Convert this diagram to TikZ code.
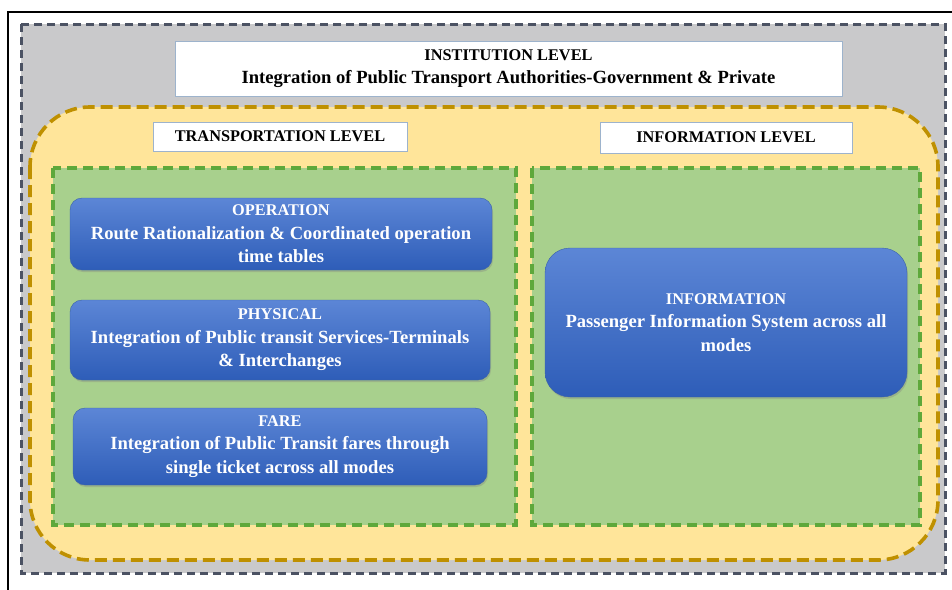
\documentclass[tikz,border=0pt]{standalone}
\usepackage{fontspec}
\setmainfont{Liberation Serif}
\usetikzlibrary{shadows}

\definecolor{outerfill}{HTML}{C9C9CB}
\definecolor{outerdash}{HTML}{4B5263}
\definecolor{transfill}{HTML}{FFE59A}
\definecolor{transdash}{HTML}{BF9000}
\definecolor{groupfill}{HTML}{A8D08D}
\definecolor{groupdash}{HTML}{5EA83B}
\definecolor{modetop}{HTML}{5C86D6}
\definecolor{modebot}{HTML}{2E5DB8}
\definecolor{modeedge}{HTML}{3A62A8}
\definecolor{labeledge}{HTML}{9DB3CC}

% capitals a bit smaller than the running text
\newcommand{\modehead}[1]{{\fontsize{16.3}{24}\selectfont #1}}

\tikzset{
  titlefont/.style={font=\bfseries\fontsize{18.6}{23}\selectfont},
  levellabel/.style={draw=labeledge, fill=white, titlefont, inner sep=0pt},
  modebox/.style={rounded corners=12pt, draw=modeedge, top color=modetop, bottom color=modebot,
    text=white, align=center, inner sep=0pt, font=\bfseries\fontsize{18.6}{23.5}\selectfont,
    drop shadow={opacity=0.35, shadow xshift=1pt, shadow yshift=-2pt}},
}

\begin{document}
\begin{tikzpicture}[x=1pt,y=-1pt]
        \useasboundingbox (0,0) rectangle (952,589);
        % page frame, only top and left fall inside
        \draw[line width=1.3pt] (8,12) rectangle (960,600);
        % institution level
        \draw[fill=outerfill, draw=outerdash, line width=3pt, dash pattern=on 8pt off 5pt] (21,24) rectangle (945,573);
        \node[levellabel, minimum width=667pt, minimum height=55pt, align=center] (inst) at (508.5,68.5)
            {\modehead{INSTITUTION LEVEL}\\Integration of Public Transport Authorities-Government \& Private};
        % transportation and information levels
        \draw[fill=transfill, draw=transdash, line width=3.6pt, dash pattern=on 12pt off 6pt, rounded corners=60pt] (30,107) rectangle (938,560);
        \node[levellabel, minimum width=254pt, minimum height=29pt] (translabel) at (280,136.5) {\modehead{TRANSPORTATION LEVEL}};
        \node[levellabel, minimum width=252pt, minimum height=31pt] (infolabel) at (726,137.5) {\modehead{INFORMATION LEVEL}};
        \draw[fill=groupfill, draw=groupdash, line width=3.2pt, dash pattern=on 10pt off 6pt] (53,168) rectangle (516,525);
        \draw[fill=groupfill, draw=groupdash, line width=3.2pt, dash pattern=on 10pt off 6pt] (532,168) rectangle (920,525);
        % integration types
        \node[modebox, minimum width=422pt, minimum height=72pt] (operation) at (281,234)
            {\modehead{OPERATION}\\Route Rationalization \& Coordinated operation\\time tables};
        \node[modebox, minimum width=420pt, minimum height=80pt] (physical) at (280,340)
            {\modehead{PHYSICAL}\\Integration of Public transit Services-Terminals\\\& Interchanges};
        \node[modebox, minimum width=414pt, minimum height=77pt] (fare) at (280,446.5)
            {\modehead{FARE}\\Integration of Public Transit fares through\\single ticket across all modes};
        \node[modebox, rounded corners=25pt, minimum width=362pt, minimum height=149pt] (information) at (726,322.5)
            {\modehead{INFORMATION}\\Passenger Information System across all\\modes};
    \end{tikzpicture}
\end{document}
